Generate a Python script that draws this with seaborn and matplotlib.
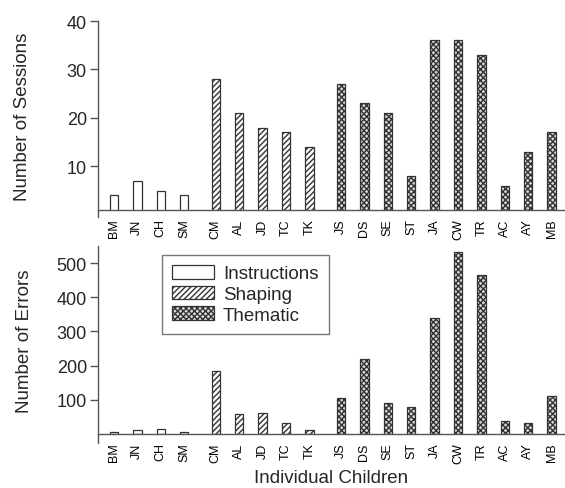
import numpy as np
import pandas as pd
import matplotlib
matplotlib.use("Agg")
import matplotlib.pyplot as plt
import seaborn as sns
from matplotlib.patches import Patch

children = ["BM", "JN", "CH", "SM",
            "CM", "AL", "JD", "TC", "TK",
            "JS", "DS", "SE", "ST", "JA", "CW", "TR", "AC", "AY", "MB"]
groups = (["Instructions"] * 4 + ["Shaping"] * 5 + ["Thematic"] * 10)
sessions = [4, 7, 5, 4, 28, 21, 18, 17, 14, 27, 23, 21, 8, 36, 36, 33, 6, 13, 17]
errors = [5, 12, 14, 6, 183, 59, 61, 32, 13, 105, 219, 90, 79, 338, 532, 464, 39, 32, 112]
group_order = ["Instructions", "Shaping", "Thematic"]

sns.set_theme(style="white")
plt.rcParams["font.family"] = ["Liberation Sans", "DejaVu Sans"]
plt.rcParams["hatch.linewidth"] = 1.0
plt.rcParams["hatch.color"] = "#1a1a1a"

# layout positions: extra gap between groups
gidx = [group_order.index(g) for g in groups]
pos = [i + 0.35 * g for i, g in enumerate(gidx)]
df = pd.DataFrame({"child": children, "group": groups, "pos": pos,
                   "sessions": sessions, "errors": errors})

hatches = {"Instructions": "", "Shaping": "//////", "Thematic": "xxxxxx"}
palette = {"Instructions": "white", "Shaping": "white", "Thematic": "#d8d8d8"}

W, H = 565, 489
fig = plt.figure(figsize=(W / 100, H / 100), dpi=100)
L = 98 / W
ax1 = fig.add_axes([L, 1 - 211 / H, 1 - L, (211 - 22) / H])
ax2 = fig.add_axes([L, 1 - 435 / H, 1 - L, (435 - 247) / H])


def draw(ax, col):
    sns.barplot(data=df, x="pos", y=col, hue="group", hue_order=group_order,
                palette=palette, native_scale=True, dodge=False, width=0.36,
                edgecolor="#333333", linewidth=0.9, legend=False, ax=ax)
    for cont, g in zip(ax.containers, group_order):
        for p in cont:
            p.set_hatch(hatches[g])
    ax.set_xticks(pos)
    ax.set_xticklabels(children, rotation=90, fontsize=9)
    ax.set_xlim(-0.68, 19.27)
    for s in ["top", "right"]:
        ax.spines[s].set_visible(False)
    for s in ["left", "bottom"]:
        ax.spines[s].set_color("#555555")
        ax.spines[s].set_linewidth(1.0)
    ax.tick_params(axis="x", length=0, pad=6, colors="black")
    ax.tick_params(axis="y", left=True, length=6, width=1, color="#555555",
                   labelsize=13, pad=2)
    ax.set_xlabel("")


draw(ax1, "sessions")
ax1.set_ylim(1, 40)
ax1.set_yticks([10, 20, 30, 40])
ax1.spines["left"].set_bounds(-0.5, 40)
ax1.set_ylabel("Number of Sessions", fontsize=13.5)
ax1.yaxis.set_label_coords(-0.143, 0.5)

draw(ax2, "errors")
ax2.set_ylim(0, 550)
ax2.set_yticks([100, 200, 300, 400, 500])
ax2.spines["left"].set_bounds(-25, 550)
ax2.set_ylabel("Number of Errors", fontsize=13.5)
ax2.yaxis.set_label_coords(-0.139, 0.5)
ax2.set_xlabel("Individual Children", fontsize=13.5, labelpad=4)

handles = [Patch(facecolor=palette[g], edgecolor="#333333", hatch=hatches[g],
                 linewidth=0.9, label=g) for g in group_order]
leg = ax2.legend(handles=handles, loc="upper left", bbox_to_anchor=(0.137, 0.954),
                 borderaxespad=0, fontsize=13.5, handlelength=2.2, handleheight=0.75,
                 labelspacing=0.17, handletextpad=0.5, borderpad=0.55,
                 fancybox=False, framealpha=1, edgecolor="#777777")
leg.get_frame().set_linewidth(1.0)

fig.savefig("out.png", dpi=100)
